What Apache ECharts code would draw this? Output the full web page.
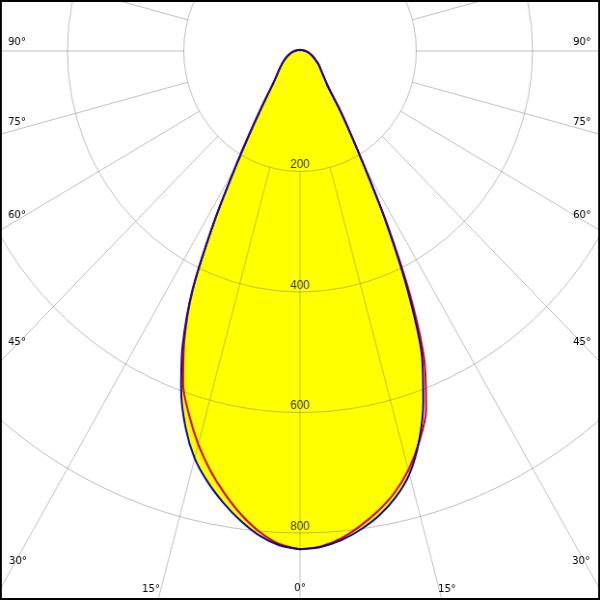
<!DOCTYPE html>
<html>
<head>
<meta charset="utf-8">
<script src="https://cdn.jsdelivr.net/npm/echarts@6/dist/echarts.min.js"></script>
<style>
html,body{margin:0;padding:0;background:#fff;overflow:hidden}
#wrap{position:relative;width:600px;height:600px;overflow:hidden;background:#fff}
#chart{position:absolute;left:-11px;top:0;width:622px;height:600px;transform:scaleX(0.965);transform-origin:50% 50%}
</style>
</head>
<body>
<div id="wrap"><div id="chart"></div></div>
<script>
// ---- data (luminous intensity, cd, vs gamma angle in degrees) ----
const gamma = [0,2.5,5,7.5,10,12.5,15,17.5,20,22.5,25,27.5,30,32.5,35,37.5,40,45,50,55,60,70,80,90,105,120,135,150,165,180];
// C-plane drawn in blue
const blueLeft  = [827,821,807,786,761,733,700,655,598,527,437,321,222,158,118,92,74,56,46,38,32,22,15,9,5,3,2,2,2,2];
const blueRight = [827,824,815,801,783,759,727,680,620,548,438,321,222,160,120,89,72,56,46,39,32,22,15,9,5,3,2,2,2,2];
// C-plane drawn in red
const redLeft   = [827,819,801,776,746,713,676,634,588,520,437,321,222,158,118,92,74,56,46,38,32,22,15,9,5,3,2,2,2,2];
const redRight  = [827,823,812,795,775,751,720,681,634,560,450,326,222,160,120,89,72,56,46,39,32,22,15,9,5,3,2,2,2,2];
const radialTicks = [200,400,600,800];
const angleTicks = ['0°','15°','30°','45°','60°','75°','90°'];

// ---- layout ----
const SX = 0.965;              // horizontal compression of reference
const W = 622, H = 600;
const CX = W/2, CY = 51;
const PX = 0.6025;             // px per cd
const RMAX = 1200;
const R = RMAX*PX;
const GRID = 'rgba(100,100,100,0.4)';
const FONT = '10.5px "DejaVu Sans", sans-serif';

function planeData(left, right){
  const pts = gamma.map((g,i)=>[left[i], g]);
  for(let i=gamma.length-1;i>=0;i--) pts.push([right[i], 360-gamma[i]]);
  return pts;
}

// angle label placement (image coords): [tickIndex, x, y, align]
const labelLayout = [
  [6, 8, 42, 'left'], [5, 8, 122, 'left'], [4, 8, 215, 'left'], [3, 8, 342, 'left'], [2, 9, 561, 'left'],
  [6, 591, 42, 'right'], [5, 591, 122, 'right'], [4, 591, 215, 'right'], [3, 591, 342, 'right'], [2, 590, 561, 'right'],
  [1, 160, 589, 'right'], [0, 300, 588, 'center'], [1, 438, 589, 'left']
];
const graphics = labelLayout.map(([k,x,y,a])=>({
  type:'text', z:50,
  style:{text:angleTicks[k], x: CX + (x-300)/SX, y:y, align:a, verticalAlign:'middle', fill:'#000', font:FONT}
}));
graphics.push({type:'rect', z:100, shape:{x:1,y:1,width:W-2,height:H-2}, style:{fill:'none', stroke:'#000', lineWidth:2}});

const chart = echarts.init(document.getElementById('chart'), null, {renderer:'canvas'});
chart.setOption({
  animation:false,
  backgroundColor:'#fff',
  polar:[
    {center:[CX,CY], radius:[0,R]},
    {center:[CX,CY], radius:[200*PX,R]}
  ],
  angleAxis:[
    {polarIndex:0, type:'value', min:0, max:360, startAngle:270, clockwise:true, show:false},
    {polarIndex:1, type:'value', min:0, max:360, interval:15, startAngle:270, clockwise:true, z:3,
     axisLine:{show:false}, axisTick:{show:false}, axisLabel:{show:false},
     splitLine:{show:true, lineStyle:{color:GRID, width:1}}}
  ],
  radiusAxis:[
    {polarIndex:0, type:'value', min:0, max:RMAX, show:false},
    {polarIndex:1, type:'value', min:200, max:RMAX, interval:200, z:3,
     axisLine:{show:false}, axisTick:{show:false}, axisLabel:{show:false},
     splitLine:{show:true, lineStyle:{color:[GRID,GRID,GRID,GRID,'rgba(0,0,0,0)','rgba(0,0,0,0)'], width:1}}}
  ],
  graphic: graphics,
  series:[
    {type:'line', coordinateSystem:'polar', polarIndex:0, z:1, symbol:'none', smooth:0.3,
     data: planeData(blueLeft, blueRight), lineStyle:{width:0, opacity:0},
     areaStyle:{color:'#ffff00', opacity:1}, silent:true},
    {type:'line', coordinateSystem:'polar', polarIndex:0, z:4, symbol:'none', smooth:0.3,
     data: planeData(redLeft, redRight), lineStyle:{color:'#e00000', width:2}},
    {type:'line', coordinateSystem:'polar', polarIndex:0, z:5, symbol:'none', smooth:0.3,
     data: planeData(blueLeft, blueRight), lineStyle:{color:'#0a0ab4', width:2}},
    {type:'scatter', coordinateSystem:'polar', polarIndex:0, z:6, symbolSize:1,
     itemStyle:{color:'rgba(0,0,0,0)'},
     data: radialTicks.map(v=>({value:[v,0], name:String(v)})),
     label:{show:true, position:'top', distance:0, formatter:'{b}', color:'#000', font:FONT}}
  ]
});
</script>
</body>
</html>
